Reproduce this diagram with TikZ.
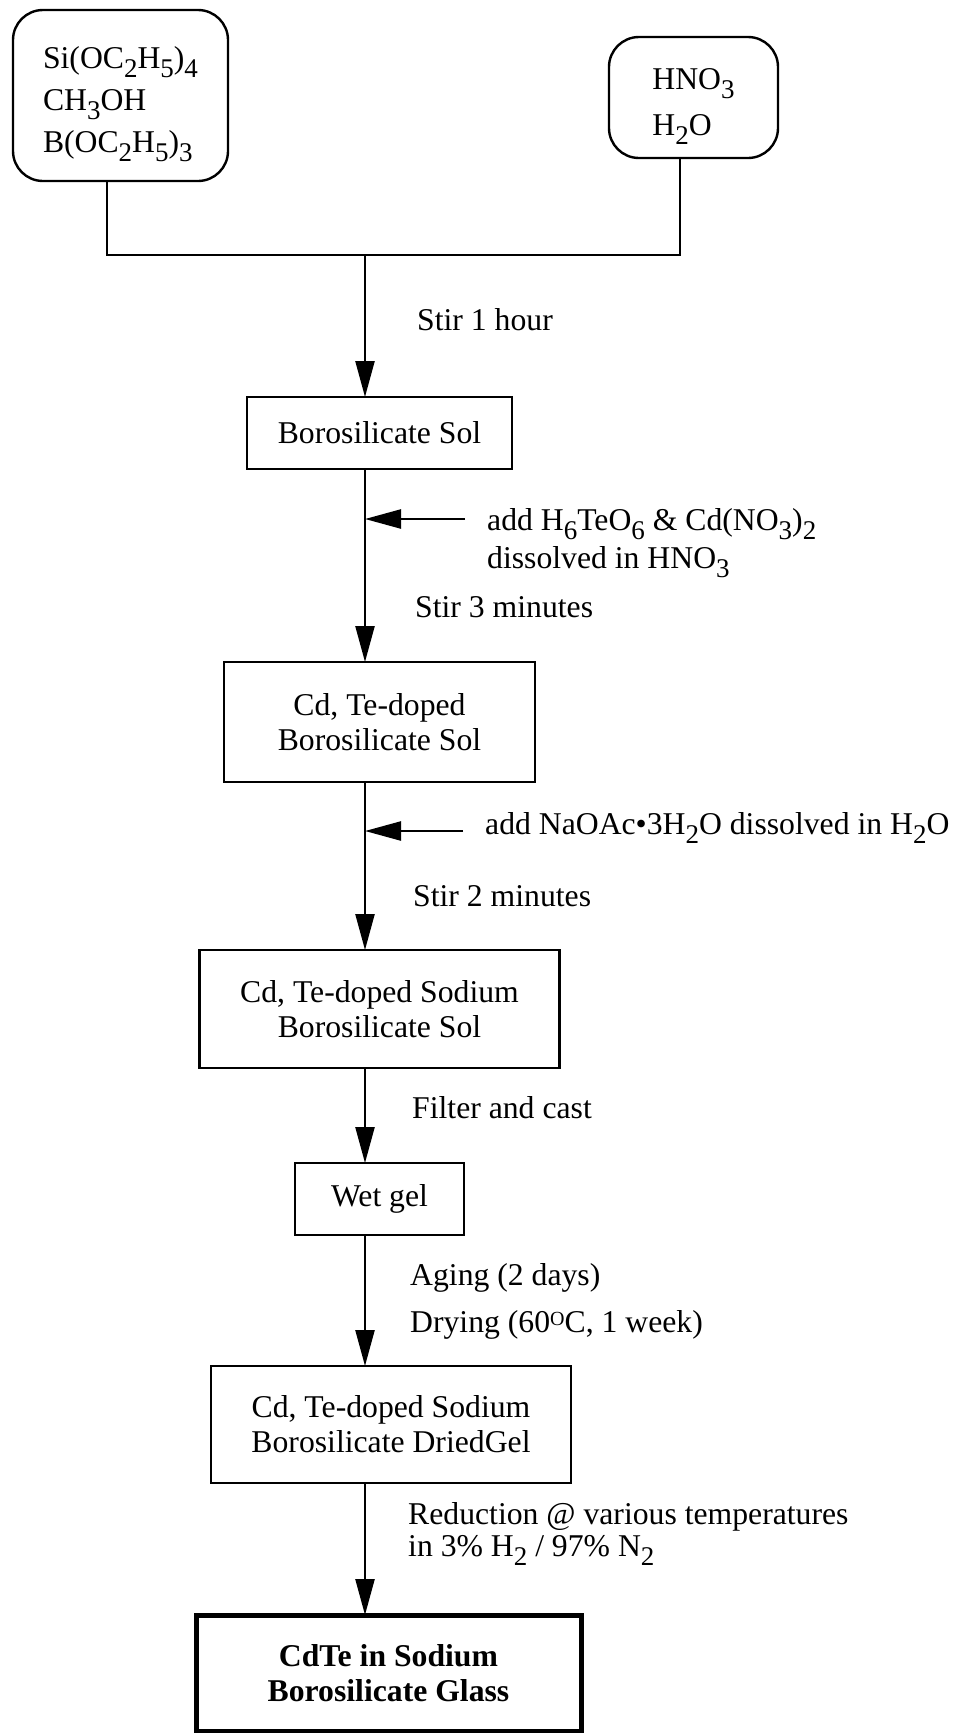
\documentclass[tikz,border=0pt]{standalone}
\usepackage{fontspec}
\setmainfont{Liberation Serif}
\usepackage{tikz}
\usetikzlibrary{positioning, arrows.meta}
\newcommand{\subs}[1]{\raisebox{-9pt}{\fontsize{27}{27}\selectfont #1}}
\newcommand{\sups}[1]{\raisebox{7pt}{\fontsize{20}{20}\selectfont #1}}

\begin{document}
\begin{tikzpicture}[
        x=1pt, y=-1pt,
        every node/.style={align=center, inner sep=0pt, font=\fontsize{31.7}{35}\selectfont},
        source/.style={rectangle, draw, line width=2.4pt, outer sep=0pt, rounded corners=30pt, align=left, text depth=0pt},
        process/.style={rectangle, draw, line width=2.4pt, outer sep=0pt},
        product/.style={rectangle, draw, line width=5pt, outer sep=0pt, font=\fontsize{31.7}{35}\selectfont\bfseries},
        note/.style={anchor=base west, align=left},
        link/.style={line width=2.4pt},
        arrow/.style={-{Triangle[length=36pt, width=19pt]}, line width=2.4pt}
    ]
    \useasboundingbox (0,0) rectangle (963,1733);
    \clip (0,0) rectangle (963,1733);

    % starting solutions
    \node[source, minimum width=215pt, minimum height=171pt, text height=113pt, font=\fontsize{31.7}{42}\selectfont] (src) at (120.5,95.5) {Si(OC\subs{2}H\subs{5})\subs{4}\\CH\subs{3}OH\\B(OC\subs{2}H\subs{5})\subs{3}};
    \node[source, minimum width=169pt, minimum height=121pt, text height=75pt, font=\fontsize{31.7}{46}\selectfont] (acid) at (693.5,97.5) {HNO\subs{3}\\H\subs{2}O};

    % process chain
    \coordinate (spine) at (365,0);
    \coordinate (mix) at (365,255);
    \node[process, minimum width=265pt, minimum height=72pt] (borosol) at (379.5,433) {Borosilicate Sol};
    \node[process, below=193pt of borosol, minimum width=311pt, minimum height=120pt] (cdte) {Cd, Te-doped\\Borosilicate Sol};
    \node[process, below=168pt of cdte, minimum width=360pt, minimum height=118pt] (nasol) {Cd, Te-doped Sodium\\Borosilicate Sol};
    \node[process, below=95pt of nasol, minimum width=169pt, minimum height=72pt] (wetgel) {Wet gel};
    \node[process, below=131pt of wetgel, xshift=11.5pt, minimum width=360pt, minimum height=117pt] (dried) {Cd, Te-doped Sodium\\Borosilicate DriedGel};
    \node[product, below=132pt of dried, xshift=-2.5pt, minimum width=385pt, minimum height=116pt] (glass) {CdTe in Sodium\\Borosilicate Glass};

    % step notes
    \node[note] (stir1) at (417,330) {Stir 1 hour};
    \node[note, font=\fontsize{31.7}{38}\selectfont] (add1) at (487,568) {add H\subs{6}TeO\subs{6} \& Cd(NO\subs{3})\subs{2}\\dissolved in HNO\subs{3}};
    \node[note] (stir3) at (415,617) {Stir 3 minutes};
    \node[note] (add2) at (485,834) {add NaOAc\textbullet 3H\subs{2}O dissolved in H\subs{2}O};
    \node[note] (stir2) at (413,906) {Stir 2 minutes};
    \node[note] (cast) at (412,1118) {Filter and cast};
    \node[note, font=\fontsize{31.7}{47}\selectfont] (dry) at (410,1332) {Aging (2 days)\\Drying (60\sups{O}C, 1 week)};
    \node[note, font=\fontsize{31.7}{32}\selectfont] (reduce) at (408,1556) {Reduction @ various temperatures\\in 3\% H\subs{2} / 97\% N\subs{2}};

    % feeds
    \coordinate (feed1) at (465,519);
    \coordinate (feed2) at (463,831);

    % Arrows
    \draw[link] ([xshift=-13.5pt]src.south) |- (mix) -| ([xshift=-13.5pt]acid.south);
    \draw[arrow] (mix) -- (borosol.north -| spine);
    \draw[arrow] (borosol.south -| spine) -- (cdte.north -| spine);
    \draw[arrow] (feed1) -- (feed1 -| spine);
    \draw[arrow] (cdte.south -| spine) -- (nasol.north -| spine);
    \draw[arrow] (feed2) -- (feed2 -| spine);
    \draw[arrow] (nasol.south -| spine) -- (wetgel.north -| spine);
    \draw[arrow] (wetgel.south -| spine) -- (dried.north -| spine);
    \draw[arrow] (dried.south -| spine) -- (glass.north -| spine);

\end{tikzpicture}
\end{document}
